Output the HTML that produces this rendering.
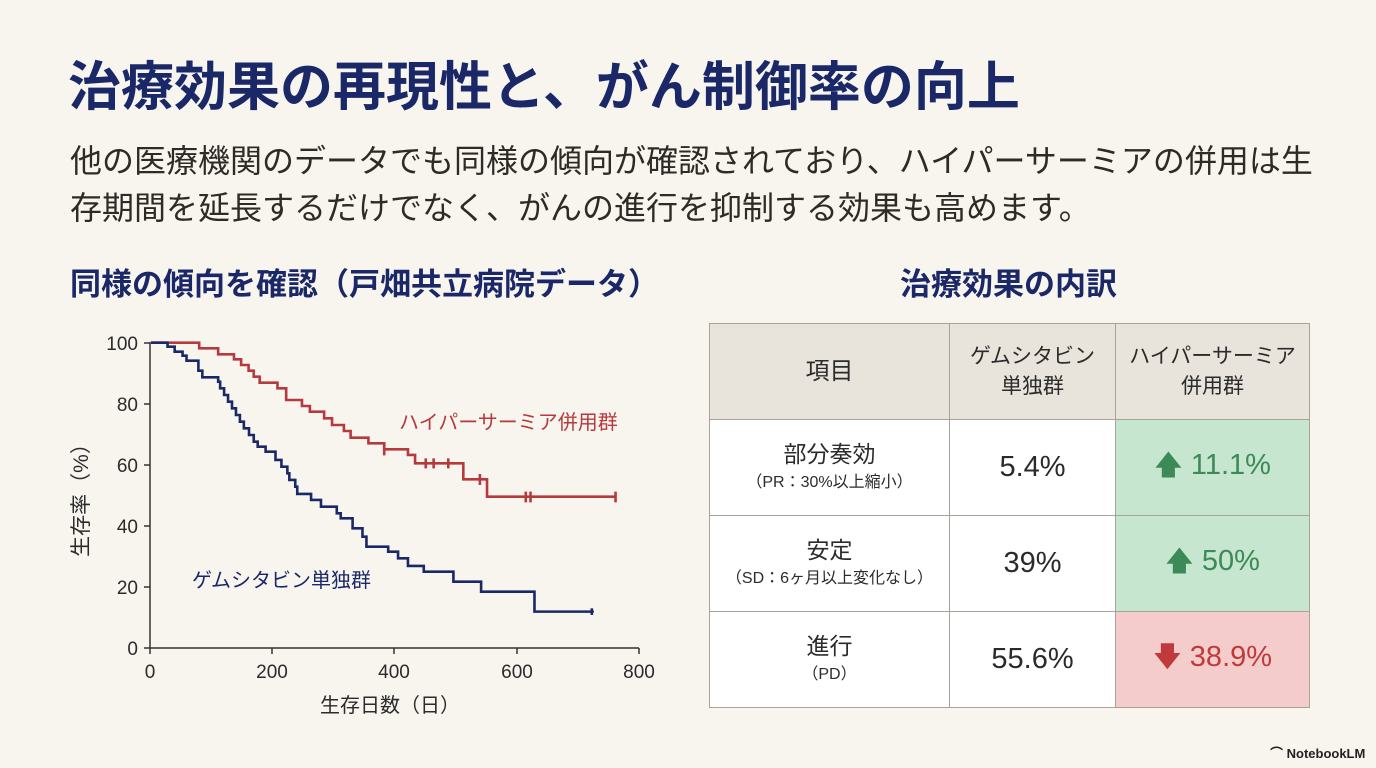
<!DOCTYPE html>
<html><head><meta charset="utf-8"><style>
html,body{margin:0;padding:0}
body{width:1376px;height:768px;background:#f8f5ef;position:relative;overflow:hidden;font-family:"Liberation Sans","Noto Sans CJK JP",sans-serif;color:#2b2b2b}
.abs{position:absolute;white-space:nowrap}
h1{position:absolute;left:68px;top:56px;margin:0;font-size:53px;font-weight:bold;color:#1a2868;line-height:64px}
.sub{left:70px;top:138px;font-size:32px;line-height:47px;color:#2e2a26}
.h2{font-size:31px;font-weight:bold;color:#1a2868;top:265px;line-height:40px}
table{position:absolute;left:709px;top:323px;border-collapse:collapse;table-layout:fixed}
td{border:1.5px solid #a9a298;text-align:center;padding:0;color:#2b2b2b}
.hd td{background:#e9e4db;height:95px;font-size:21px;line-height:30px}
.r td{height:95px;background:#fff}
.lab{font-size:23px;line-height:30px}
.small{font-size:16px;line-height:28px}
.val{font-size:29px}
.g{background:#c6e6cf!important;color:#3b8a57;font-size:29px}
.rd{background:#f5cccc!important;color:#c0393b;font-size:29px}
</style></head><body>
<h1>治療効果の再現性と、がん制御率の向上</h1>
<div class="abs sub">他の医療機関のデータでも同様の傾向が確認されており、ハイパーサーミアの併用は生<br>存期間を延長するだけでなく、がんの進行を抑制する効果も高めます。</div>
<div class="abs h2" style="left:70px">同様の傾向を確認（戸畑共立病院データ）</div>
<div class="abs h2" style="left:900px">治療効果の内訳</div>

<svg class="abs" style="left:0;top:0" width="700" height="768">
<g font-family="Liberation Sans, Noto Sans CJK JP, sans-serif" fill="#2b2b2b">
<line x1="150" y1="342" x2="150" y2="648" stroke="#333" stroke-width="1.5"/>
<line x1="150" y1="648" x2="639" y2="648" stroke="#333" stroke-width="1.5"/>
<g stroke="#333" stroke-width="1.5">
<line x1="144" y1="343" x2="150" y2="343"/><line x1="144" y1="404" x2="150" y2="404"/><line x1="144" y1="465" x2="150" y2="465"/><line x1="144" y1="526" x2="150" y2="526"/><line x1="144" y1="587" x2="150" y2="587"/><line x1="144" y1="648" x2="150" y2="648"/>
<line x1="150" y1="648" x2="150" y2="654"/><line x1="272" y1="648" x2="272" y2="654"/><line x1="394" y1="648" x2="394" y2="654"/><line x1="517" y1="648" x2="517" y2="654"/><line x1="639" y1="648" x2="639" y2="654"/>
</g>
<g font-size="19" text-anchor="end">
<text x="138" y="350">100</text><text x="138" y="411">80</text><text x="138" y="472">60</text><text x="138" y="533">40</text><text x="138" y="594">20</text><text x="138" y="655">0</text>
</g>
<g font-size="19" text-anchor="middle">
<text x="150" y="678">0</text><text x="272" y="678">200</text><text x="394" y="678">400</text><text x="517" y="678">600</text><text x="639" y="678">800</text>
<text x="390" y="712" font-size="20">生存日数（日）</text>
</g>
<text transform="translate(88,495) rotate(-90)" font-size="21" text-anchor="middle">生存率（%）</text>
<text x="399" y="429" font-size="20" fill="#b5393d">ハイパーサーミア併用群</text>
<text x="192" y="587" font-size="20" fill="#1a2868">ゲムシタビン単独群</text>
<g transform="translate(60,320) scale(0.3954,0.3333)" fill="none" stroke-width="2.6">
<path vector-effect="non-scaling-stroke" stroke="#b5393d" d="M230 68 H352 V85 H400 V103 H440 V118 H458 V135 H477 V152 H490 V170 H505 V188 H550 V205 H572 V240 H612 V258 H632 V275 H668 V295 H688 V315 H718 V333 H735 V353 H780 V370 H820 V388 H880 V405 H898 V430 H1020 V478 H1080 V530 H1405"/>
<path vector-effect="non-scaling-stroke" stroke="#b5393d" d="M820 370 V406 M925 415 V445 M945 415 V445 M982 415 V445 M1062 462 V495 M1178 515 V547 M1190 515 V547 M1405 515 V547"/>
<path vector-effect="non-scaling-stroke" stroke="#1a2868" d="M230 68 H272 V80 H290 V95 H310 V107 H320 V122 H350 V152 H360 V172 H400 V185 H405 V205 H415 V225 H425 V245 H435 V265 H445 V285 H455 V305 H465 V325 H478 V345 H490 V365 H500 V380 H520 V395 H545 V420 H560 V440 H575 V460 H580 V480 H595 V500 H600 V522 H635 V540 H660 V560 H700 V580 H710 V595 H740 V625 H765 V650 H775 V680 H830 V695 H855 V715 H880 V738 H920 V755 H995 V785 H1065 V815 H1200 V875 H1350"/>
<path vector-effect="non-scaling-stroke" stroke="#1a2868" d="M1345 865 V885"/>
</g>
</g>
</svg>

<table>
<colgroup><col style="width:240px"><col style="width:166px"><col style="width:194px"></colgroup>
<tr class="hd"><td style="font-size:24px">項目</td><td>ゲムシタビン<br>単独群</td><td>ハイパーサーミア<br>併用群</td></tr>
<tr class="r"><td><div class="lab">部分奏効</div><div class="small">（PR：30%以上縮小）</div></td><td class="val">5.4%</td><td class="g"><span style="font-size:28px">🡅</span> 11.1%</td></tr>
<tr class="r"><td><div class="lab">安定</div><div class="small">（SD：6ヶ月以上変化なし）</div></td><td class="val">39%</td><td class="g"><span style="font-size:28px">🡅</span> 50%</td></tr>
<tr class="r"><td><div class="lab">進行</div><div class="small">（PD）</div></td><td class="val">55.6%</td><td class="rd"><span style="font-size:28px">🡇</span> 38.9%</td></tr>
</table>

<div class="abs" style="left:1270px;top:743px;font-size:13px;font-weight:bold;color:#222">⌒ NotebookLM</div>
</body></html>
